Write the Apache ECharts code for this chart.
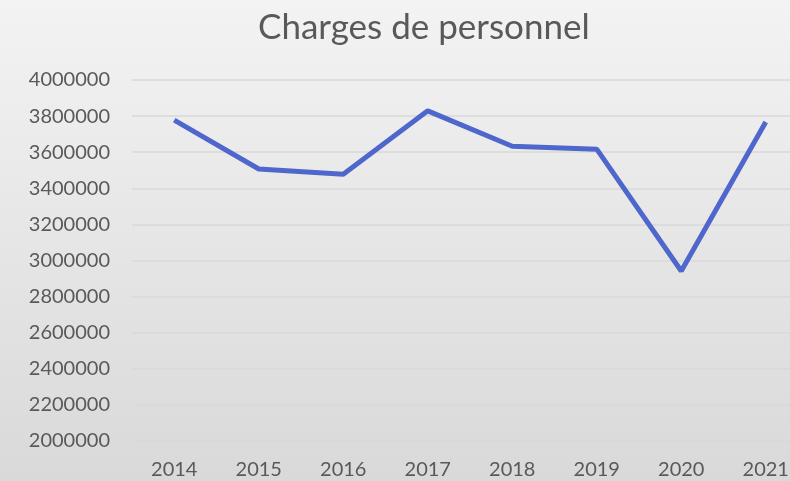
<!DOCTYPE html>
<html>
<head>
<meta charset="utf-8">
<style>
  html, body { margin: 0; padding: 0; }
  #chart { width: 790px; height: 481px; }
</style>
<script src="https://cdn.jsdelivr.net/npm/echarts@6/dist/echarts.min.js"></script>
</head>
<body>
<div id="chart"></div>
<script>
// years on the x axis
const years = ["2014", "2015", "2016", "2017", "2018", "2019", "2020", "2021"];
// staff costs
const charges = [3778000, 3507000, 3478000, 3829000, 3633000, 3617000, 2942000, 3767000];
const yMin = 2000000;
const yMax = 4000000;
const yStep = 200000;

const chart = echarts.init(document.getElementById("chart"));

const textColor = "#595959";
const font = "Lato, 'Open Sans', sans-serif";

chart.setOption({
    backgroundColor: new echarts.graphic.LinearGradient(0, 0, 0, 1, [
        { offset: 0, color: "#f3f3f3" },
        { offset: 1, color: "#d9d9d9" }
    ]),
    title: {
        text: "Charges de personnel",
        left: 253,
        top: 5,
        textStyle: {
            color: textColor,
            fontFamily: font,
            fontWeight: "normal",
            fontSize: 35
        }
    },
    grid: {
        left: 132,
        right: -18,
        top: 80,
        bottom: 40,
        outerBoundsMode: "none"
    },
    xAxis: {
        type: "category",
        data: years,
        boundaryGap: true,
        axisLine: { show: false },
        axisTick: { show: false },
        axisLabel: {
            color: textColor,
            fontFamily: font,
            fontSize: 20,
            margin: 19
        }
    },
    yAxis: {
        type: "value",
        min: yMin,
        max: yMax,
        interval: yStep,
        axisLine: { show: false },
        axisTick: { show: false },
        axisLabel: {
            color: textColor,
            fontFamily: font,
            fontSize: 20,
            margin: 22,
            formatter: (v) => String(v)
        },
        splitLine: {
            show: true,
            lineStyle: { color: "#d8d8d8", width: 1.5 }
        }
    },
    series: [
        {
            type: "line",
            data: charges,
            showSymbol: false,
            symbol: "none",
            lineStyle: { color: "#4f67cd", width: 5 },
            animation: false
        }
    ],
    animation: false
});
</script>
</body>
</html>
